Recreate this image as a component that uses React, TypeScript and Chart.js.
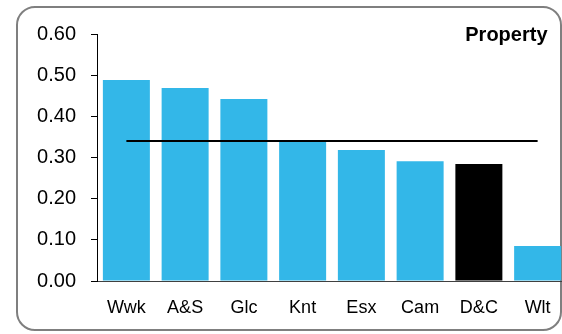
import React, { useEffect, useRef } from "react";
import { Chart, registerables } from "chart.js";

Chart.register(...registerables);

const categories = ["Wwk", "A&S", "Glc", "Knt", "Esx", "Cam", "D&C", "Wlt"];
const values = [0.488, 0.469, 0.442, 0.34, 0.318, 0.291, 0.284, 0.085];
const average = [0.34, 0.34, 0.34, 0.34, 0.34, 0.34, 0.34, 0.34];
const highlight = "D&C";
const titleText = "Property";

const BLUE = "#33B7E8";
const FONT = "'Liberation Sans', Arial, sans-serif";

const frame = {
  id: "frame",
  beforeDraw(chart: any) {
    const ctx = chart.ctx;
    ctx.save();
    ctx.fillStyle = "#ffffff";
    ctx.fillRect(0, 0, chart.width, chart.height);
    ctx.strokeStyle = "#7f7f7f";
    ctx.lineWidth = 2;
    ctx.beginPath();
    (ctx as any).roundRect(17, 7, 544, 323, 18);
    ctx.stroke();
    ctx.restore();
  },
  afterDraw(chart: any) {
    const ctx = chart.ctx;
    ctx.save();
    ctx.fillStyle = "#000000";
    ctx.font = `bold 20px ${FONT}`;
    ctx.textAlign = "right";
    ctx.textBaseline = "alphabetic";
    ctx.fillText(titleText, 547.5, 41);
    ctx.restore();
  },
};

export default function App() {
  const ref = useRef<HTMLCanvasElement | null>(null);
  useEffect(() => {
    document.body.style.margin = "0";
    document.body.style.overflow = "hidden";
    const canvas = ref.current!;
    const chart = new Chart(canvas, {
      type: "bar",
      data: {
        labels: categories,
        datasets: [
          {
            type: "line",
            data: average,
            borderColor: "#000000",
            borderWidth: 2,
            pointRadius: 0,
            order: 0,
          } as any,
          {
            type: "bar",
            data: values,
            backgroundColor: categories.map((c) => (c === highlight ? "#000000" : BLUE)),
            categoryPercentage: 0.8,
            barPercentage: 1,
            order: 1,
          },
        ],
      },
      options: {
        responsive: false,
        animation: false,
        layout: { padding: { top: 34, left: 0, right: 0, bottom: 0 } },
        plugins: { legend: { display: false }, tooltip: { enabled: false }, title: { display: false } },
        scales: {
          x: {
            grid: { display: false, drawTicks: false },
            border: { display: true, color: "#404040", width: 1 },
            ticks: { color: "#000000", font: { family: FONT, size: 18 }, padding: 16, maxRotation: 0 },
            afterFit(scale: any) {
              scale.height = 53;
            },
          },
          y: {
            min: 0,
            max: 0.6,
            grid: { drawOnChartArea: false, drawTicks: true, tickLength: 6, color: "#000000" },
            border: { display: true, color: "#000000", width: 1 },
            ticks: {
              stepSize: 0.1,
              color: "#000000",
              font: { family: FONT, size: 20 },
              padding: 15,
              callback: (v: any) => Number(v).toFixed(2),
            },
            afterFit(scale: any) {
              scale.width = 97;
            },
          },
        },
      },
      plugins: [frame],
    });
    return () => chart.destroy();
  }, []);
  return (
    <div style={{ position: "fixed", left: 0, top: 0, width: 567, height: 334 }}>
      <canvas ref={ref} width={567} height={334} />
    </div>
  );
}
